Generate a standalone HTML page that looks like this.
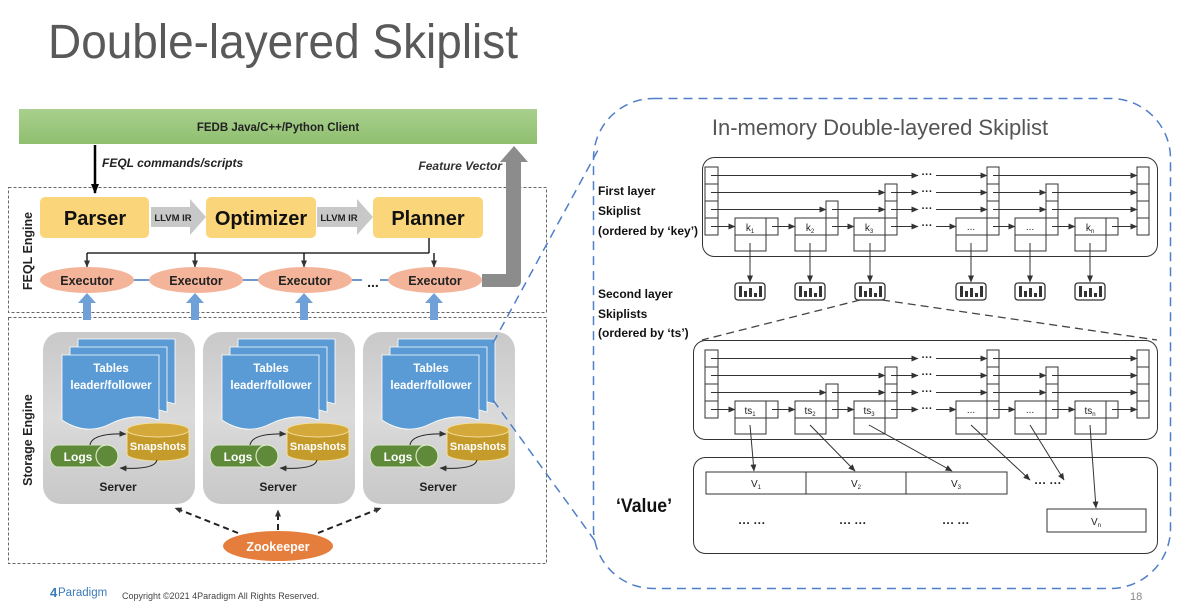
<!DOCTYPE html>
<html><head><meta charset="utf-8"><style>
html,body{margin:0;padding:0;background:#fff;}
svg{display:block;}
</style></head><body>
<svg width="1194" height="614" viewBox="0 0 1194 614" xmlns="http://www.w3.org/2000/svg" font-family="Liberation Sans, sans-serif">
<defs>
<marker id="ah" markerWidth="7" markerHeight="6" refX="6.5" refY="3" orient="auto" markerUnits="userSpaceOnUse"><path d="M0,0 L7,3 L0,6 z" fill="#333"/></marker>
<marker id="ahb" markerWidth="10" markerHeight="8" refX="9" refY="4" orient="auto" markerUnits="userSpaceOnUse"><path d="M0,0 L10,4 L0,8 z" fill="#000"/></marker>
<linearGradient id="srv" x1="0" y1="0" x2="0" y2="1"><stop offset="0" stop-color="#c9c9c9"/><stop offset="0.5" stop-color="#dadada"/><stop offset="1" stop-color="#c8c8c8"/></linearGradient>
<linearGradient id="grn" x1="0" y1="0" x2="0" y2="1"><stop offset="0" stop-color="#a9d08e"/><stop offset="1" stop-color="#8fbf6f"/></linearGradient>
<g id="server">
  <rect x="43" y="332" width="152" height="172" rx="18" fill="url(#srv)"/>
  <path d="M78,339 H175 V404 Q150,396 126,408 T78,404 Z" fill="#5b9bd5" stroke="#fff" stroke-width="0.8"/>
  <path d="M70,347 H167 V412 Q142,404 118,416 T70,412 Z" fill="#5b9bd5" stroke="#fff" stroke-width="0.8"/>
  <path d="M62,355 H159 V420 Q134,412 110,424 T62,420 Z" fill="#5b9bd5" stroke="#fff" stroke-width="0.8"/>
  <text x="111" y="372" font-size="11.5" font-weight="bold" fill="#fff" text-anchor="middle">Tables</text>
  <text x="111" y="389" font-size="11.5" font-weight="bold" fill="#fff" text-anchor="middle">leader/follower</text>
  <path d="M127,430 V454 A31,7 0 0 0 189,454 V430" fill="#c59b2c" stroke="#f3dfa0" stroke-width="1"/>
  <ellipse cx="158" cy="430" rx="31" ry="7" fill="#d4a93a" stroke="#f3dfa0" stroke-width="1"/>
  <text x="158" y="450" font-size="11" font-weight="bold" fill="#fff" text-anchor="middle">Snapshots</text>
  <path d="M58,445 H107 A11,11 0 0 1 107,467 H58 A8,11 0 0 1 58,445 Z" fill="#5e8a3a" stroke="#d8e8c8" stroke-width="1"/>
  <ellipse cx="107" cy="456" rx="11" ry="11" fill="#5e8a3a" stroke="#d8e8c8" stroke-width="1.2"/>
  <text x="78" y="461" font-size="12" font-weight="bold" fill="#fff" text-anchor="middle">Logs</text>
  <path d="M90,445 Q92,433 126,434" fill="none" stroke="#222" stroke-width="1" marker-end="url(#ah)"/>
  <path d="M157,460 Q155,470 120,468" fill="none" stroke="#222" stroke-width="1" marker-end="url(#ah)"/>
  <text x="118" y="491" font-size="12" font-weight="bold" fill="#222" text-anchor="middle">Server</text>
</g>
<g id="sl" stroke="#333" stroke-width="1" fill="none">
  <!-- head -->
  <rect x="705" y="167" width="13" height="17" fill="#fff"/><rect x="705" y="184" width="13" height="17" fill="#fff"/><rect x="705" y="201" width="13" height="17" fill="#fff"/><rect x="705" y="218" width="13" height="17" fill="#fff"/>
  <!-- nodes -->
  <rect x="735" y="218" width="31" height="17" fill="#fff"/><rect x="735" y="235" width="31" height="16" fill="#fff"/><rect x="766" y="218" width="12" height="17" fill="#fff"/>
  <rect x="795" y="218" width="31" height="17" fill="#fff"/><rect x="795" y="235" width="31" height="16" fill="#fff"/><rect x="826" y="201" width="12" height="17" fill="#fff"/><rect x="826" y="218" width="12" height="17" fill="#fff"/>
  <rect x="854" y="218" width="31" height="17" fill="#fff"/><rect x="854" y="235" width="31" height="16" fill="#fff"/><rect x="885" y="184" width="12" height="17" fill="#fff"/><rect x="885" y="201" width="12" height="17" fill="#fff"/><rect x="885" y="218" width="12" height="17" fill="#fff"/>
  <rect x="956" y="218" width="31" height="17" fill="#fff"/><rect x="956" y="235" width="31" height="16" fill="#fff"/><rect x="987" y="167" width="12" height="17" fill="#fff"/><rect x="987" y="184" width="12" height="17" fill="#fff"/><rect x="987" y="201" width="12" height="17" fill="#fff"/><rect x="987" y="218" width="12" height="17" fill="#fff"/>
  <rect x="1015" y="218" width="31" height="17" fill="#fff"/><rect x="1015" y="235" width="31" height="16" fill="#fff"/><rect x="1046" y="184" width="12" height="17" fill="#fff"/><rect x="1046" y="201" width="12" height="17" fill="#fff"/><rect x="1046" y="218" width="12" height="17" fill="#fff"/>
  <rect x="1075" y="218" width="31" height="17" fill="#fff"/><rect x="1075" y="235" width="31" height="16" fill="#fff"/><rect x="1106" y="218" width="12" height="17" fill="#fff"/>
  <rect x="1137" y="167" width="12" height="17" fill="#fff"/><rect x="1137" y="184" width="12" height="17" fill="#fff"/><rect x="1137" y="201" width="12" height="17" fill="#fff"/><rect x="1137" y="218" width="12" height="17" fill="#fff"/>
  <g marker-end="url(#ah)">
  <path d="M711,226.5H735"/><path d="M772,226.5H795"/><path d="M832,226.5H854"/><path d="M891,226.5H918"/><path d="M936,226.5H956"/><path d="M993,226.5H1015"/><path d="M1052,226.5H1075"/><path d="M1112,226.5H1137"/>
  <path d="M711,209.5H826"/><path d="M832,209.5H885"/><path d="M891,209.5H918"/><path d="M936,209.5H987"/><path d="M993,209.5H1046"/><path d="M1052,209.5H1137"/>
  <path d="M711,192.5H885"/><path d="M891,192.5H918"/><path d="M936,192.5H987"/><path d="M993,192.5H1046"/><path d="M1052,192.5H1137"/>
  <path d="M711,175.5H918"/><path d="M936,175.5H987"/><path d="M993,175.5H1137"/>
  </g>
</g>
<g id="icon">
  <rect x="-15" y="0" width="30" height="17" rx="3" fill="#fff" stroke="#333" stroke-width="1.3"/>
  <rect x="-11" y="3" width="3" height="11" fill="#333"/><rect x="-6" y="8" width="3" height="6" fill="#333"/><rect x="-1" y="5" width="3" height="9" fill="#333"/><rect x="4" y="10" width="3" height="4" fill="#333"/><rect x="9" y="3" width="3" height="11" fill="#333"/>
</g>
</defs>

<!-- Title -->
<text x="48" y="58" font-size="48" fill="#595959" textLength="470" lengthAdjust="spacingAndGlyphs">Double-layered Skiplist</text>

<!-- Left diagram -->
<rect x="19" y="109" width="518" height="35" fill="url(#grn)"/>
<text x="278" y="131" font-size="11.5" font-weight="bold" fill="#222" text-anchor="middle">FEDB Java/C++/Python Client</text>

<rect x="8.5" y="187.5" width="538" height="125" fill="none" stroke="#666" stroke-dasharray="3,2"/>
<rect x="8.5" y="317.5" width="538" height="246" fill="none" stroke="#666" stroke-dasharray="3,2"/>
<text transform="translate(32,251) rotate(-90)" font-size="12.5" font-weight="bold" fill="#222" text-anchor="middle">FEQL Engine</text>
<text transform="translate(32,440) rotate(-90)" font-size="12.5" font-weight="bold" fill="#222" text-anchor="middle">Storage Engine</text>

<line x1="95" y1="145" x2="95" y2="193" stroke="#000" stroke-width="2.5" marker-end="url(#ahb)"/>
<text x="102" y="167" font-size="12" font-weight="bold" font-style="italic" fill="#222">FEQL commands/scripts</text>
<text x="502" y="170" font-size="12" font-weight="bold" font-style="italic" fill="#333" text-anchor="end">Feature Vector</text>

<rect x="40" y="197" width="109" height="41" rx="5" fill="#fad57a"/>
<rect x="206" y="197" width="110" height="41" rx="5" fill="#fad57a"/>
<rect x="373" y="197" width="110" height="41" rx="5" fill="#fad57a"/>
<text x="95" y="225" font-size="20" font-weight="bold" fill="#111" text-anchor="middle">Parser</text>
<text x="261" y="225" font-size="20" font-weight="bold" fill="#111" text-anchor="middle">Optimizer</text>
<text x="428" y="225" font-size="20" font-weight="bold" fill="#111" text-anchor="middle">Planner</text>
<path d="M151,207 H190 V199 L206,217 L190,235 V227 H151 Z" fill="#c8c8c8"/>
<path d="M317,207 H357 V199 L373,217 L357,235 V227 H317 Z" fill="#c8c8c8"/>
<text x="173" y="221" font-size="9.5" font-weight="bold" fill="#222" text-anchor="middle">LLVM IR</text>
<text x="339" y="221" font-size="9.5" font-weight="bold" fill="#222" text-anchor="middle">LLVM IR</text>

<path d="M429,238 V253 M87,253 H429" stroke="#000" stroke-width="1.3" fill="none"/>
<g stroke="#000" stroke-width="1.3" marker-end="url(#ah)"><line x1="87" y1="253" x2="87" y2="267"/><line x1="195" y1="253" x2="195" y2="267"/><line x1="304" y1="253" x2="304" y2="267"/><line x1="434" y1="253" x2="434" y2="267"/></g>

<g stroke="#6d9ad0" stroke-width="2"><line x1="130" y1="280" x2="155" y2="280"/><line x1="240" y1="280" x2="260" y2="280"/><line x1="350" y1="280" x2="362" y2="280"/><line x1="380" y1="280" x2="390" y2="280"/></g>
<text x="373" y="287" font-size="14" font-weight="bold" fill="#222" text-anchor="middle">...</text>
<g fill="#f4b49a"><ellipse cx="87" cy="280" rx="47" ry="13"/><ellipse cx="196" cy="280" rx="47" ry="13"/><ellipse cx="305" cy="280" rx="47" ry="13"/><ellipse cx="435" cy="280" rx="47" ry="13"/></g>
<g font-size="12.5" font-weight="bold" fill="#222" text-anchor="middle"><text x="87" y="285">Executor</text><text x="196" y="285">Executor</text><text x="305" y="285">Executor</text><text x="435" y="285">Executor</text></g>

<path d="M482,274 H506 V162 H500 L514,146 L528,162 H521 V281 Q521,287 515,287 H482 Z" fill="#8c8c8c"/>

<g fill="#6fa0d8"><path d="M83,320 V303 H78 L87,293 L96,303 H91 V320 Z"/><path d="M191,320 V303 H186 L195,293 L204,303 H199 V320 Z"/><path d="M300,320 V303 H295 L304,293 L313,303 H308 V320 Z"/><path d="M430,320 V303 H425 L434,293 L443,303 H438 V320 Z"/></g>

<use href="#server"/>
<use href="#server" x="160"/>
<use href="#server" x="320"/>

<ellipse cx="278" cy="546" rx="55" ry="15" fill="#e57e3d"/>
<text x="278" y="551" font-size="12.5" font-weight="bold" fill="#fff" text-anchor="middle">Zookeeper</text>
<g stroke="#222" stroke-width="2" stroke-dasharray="6,4" marker-end="url(#ah)" fill="none">
<line x1="238" y1="533" x2="175" y2="508"/><line x1="278" y1="530" x2="278" y2="510"/><line x1="318" y1="533" x2="381" y2="508"/></g>

<!-- blue connectors -->
<g stroke="#4f7fc8" stroke-width="1.5" stroke-dasharray="9,6" fill="none">
<line x1="493" y1="343" x2="598" y2="150"/><line x1="493" y1="400" x2="598" y2="545"/>
<rect x="593.5" y="98.5" width="577" height="490" rx="60" ry="60"/>
</g>

<!-- footer -->
<text x="50" y="597" font-size="13" fill="#3a7ab8" font-weight="bold">4</text><text x="58" y="596" font-size="11.5" fill="#3a7ab8">Paradigm</text>
<text x="122" y="599" font-size="9" fill="#444">Copyright ©2021 4Paradigm All Rights Reserved.</text>
<text x="1130" y="600" font-size="11" fill="#888">18</text>

<!-- right diagram -->
<text x="880" y="135" font-size="22" fill="#555" text-anchor="middle">In-memory Double-layered Skiplist</text>
<g font-size="12" font-weight="bold" fill="#111">
<text x="598" y="195">First layer</text><text x="598" y="215">Skiplist</text><text x="598" y="235">(ordered by ‘key’)</text>
<text x="598" y="298">Second layer</text><text x="598" y="318">Skiplists</text><text x="598" y="337">(ordered by ‘ts’)</text>
</g>
<rect x="702.5" y="157.5" width="455" height="99" rx="12" fill="none" stroke="#333"/>
<rect x="693.5" y="340.5" width="464" height="99" rx="12" fill="none" stroke="#333"/>
<use href="#sl"/>
<use href="#sl" y="183"/>
<g font-size="10" fill="#222" text-anchor="middle">
<text x="750" y="231">k<tspan font-size="6" dy="2">1</tspan></text><text x="810" y="231">k<tspan font-size="6" dy="2">2</tspan></text><text x="869" y="231">k<tspan font-size="6" dy="2">3</tspan></text><text x="971" y="230">...</text><text x="1030" y="230">...</text><text x="1090" y="231">k<tspan font-size="6" dy="2">n</tspan></text>
<text x="750" y="414">ts<tspan font-size="6" dy="2">1</tspan></text><text x="810" y="414">ts<tspan font-size="6" dy="2">2</tspan></text><text x="869" y="414">ts<tspan font-size="6" dy="2">3</tspan></text><text x="971" y="413">...</text><text x="1030" y="413">...</text><text x="1090" y="414">ts<tspan font-size="6" dy="2">n</tspan></text>
</g>
<g font-size="11" fill="#222" text-anchor="middle" font-weight="bold">
<text x="927" y="178">···</text><text x="927" y="195">···</text><text x="927" y="212">···</text><text x="927" y="229">···</text>
<text x="927" y="361">···</text><text x="927" y="378">···</text><text x="927" y="395">···</text><text x="927" y="412">···</text>
</g>
<g stroke="#333" stroke-width="1" marker-end="url(#ah)">
<line x1="750" y1="243" x2="750" y2="282"/><line x1="810" y1="243" x2="810" y2="282"/><line x1="870" y1="243" x2="870" y2="282"/><line x1="971" y1="243" x2="971" y2="282"/><line x1="1030" y1="243" x2="1030" y2="282"/><line x1="1090" y1="243" x2="1090" y2="282"/>
</g>
<use href="#icon" x="750" y="283"/><use href="#icon" x="810" y="283"/><use href="#icon" x="870" y="283"/><use href="#icon" x="971" y="283"/><use href="#icon" x="1030" y="283"/><use href="#icon" x="1090" y="283"/>
<g stroke="#444" stroke-width="1.3" stroke-dasharray="8,5"><line x1="860" y1="300" x2="702" y2="340"/><line x1="882" y1="300" x2="1157" y2="340"/></g>

<!-- Value -->
<rect x="693.5" y="457.5" width="464" height="96" rx="12" fill="none" stroke="#333"/>
<rect x="706" y="472" width="100" height="22" fill="none" stroke="#333"/>
<rect x="806" y="472" width="100" height="22" fill="none" stroke="#333"/>
<rect x="906" y="472" width="101" height="22" fill="none" stroke="#333"/>
<rect x="1047" y="509" width="99" height="23" fill="none" stroke="#333"/>
<g font-size="10" fill="#222" text-anchor="middle">
<text x="756" y="487">V<tspan font-size="6" dy="2">1</tspan></text><text x="856" y="487">V<tspan font-size="6" dy="2">2</tspan></text><text x="956" y="487">V<tspan font-size="6" dy="2">3</tspan></text><text x="1096" y="525">V<tspan font-size="6" dy="2">n</tspan></text>
</g>
<g font-size="12" font-weight="bold" fill="#222" text-anchor="middle">
<text x="1048" y="487">··· ···</text><text x="752" y="527">··· ···</text><text x="853" y="527">··· ···</text><text x="956" y="527">··· ···</text>
</g>
<text x="616" y="512" font-size="19" font-weight="bold" fill="#111" textLength="56" lengthAdjust="spacingAndGlyphs">‘Value’</text>
<g stroke="#333" stroke-width="1" marker-end="url(#ah)">
<line x1="750" y1="425" x2="754" y2="471"/><line x1="810" y1="425" x2="855" y2="471"/><line x1="869" y1="425" x2="952" y2="471"/><line x1="971" y1="425" x2="1030" y2="480"/><line x1="1030" y1="425" x2="1064" y2="480"/><line x1="1090" y1="425" x2="1096" y2="508"/>
</g>
</svg>
</body></html>
